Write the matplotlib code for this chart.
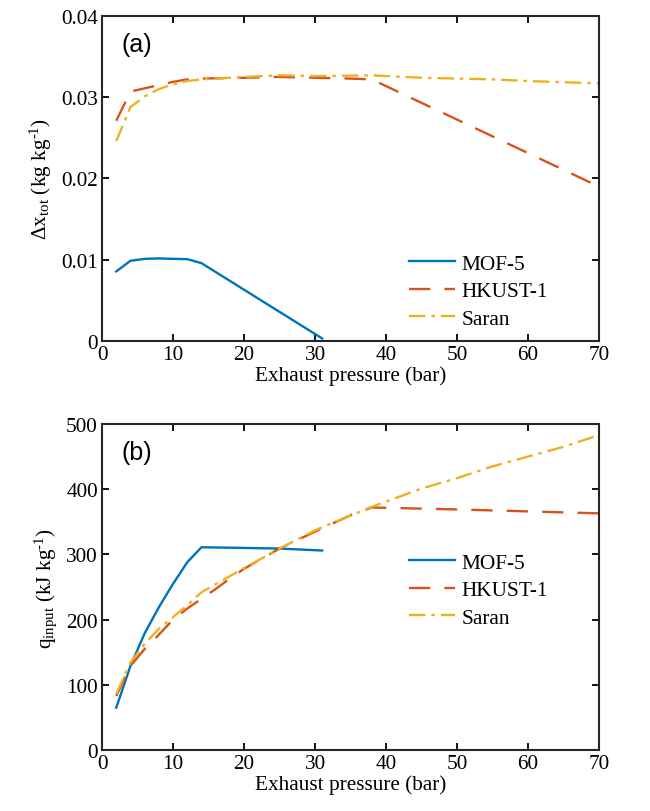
import matplotlib
matplotlib.use("Agg")
import matplotlib.pyplot as plt

plt.rcParams['font.family'] = ['Liberation Serif', 'DejaVu Serif']
plt.rcParams['mathtext.fontset'] = 'custom'
plt.rcParams['mathtext.rm'] = 'Liberation Serif'
plt.rcParams['mathtext.it'] = 'Liberation Serif:italic'
plt.rcParams['mathtext.sf'] = 'Liberation Serif'

# Panel (a): total uptake swing
a_mof_x = [2, 4, 6, 8, 10, 12, 14, 31]
a_mof_y = [0.00855, 0.00986, 0.0101, 0.01015, 0.0101, 0.01006, 0.00957, 0.0003]
a_hk_x = [2, 4, 6, 8, 10, 12, 14, 20, 25, 30, 35, 38, 70]
a_hk_y = [0.0271, 0.0307, 0.0311, 0.0315, 0.0319, 0.0322, 0.0323, 0.0324, 0.0325, 0.0324, 0.0323, 0.0322, 0.0190]
a_sa_x = [2, 4, 6, 8, 10, 12, 14, 20, 25, 30, 38, 45, 50, 55, 60, 70]
a_sa_y = [0.0246, 0.0288, 0.0301, 0.0310, 0.0316, 0.0320, 0.0322, 0.0325, 0.0327, 0.0326, 0.0327, 0.0324, 0.0323, 0.0322, 0.0320, 0.0317]

# Panel (b): heat input
b_mof_x = [2, 4, 6, 8, 10, 12, 14, 20, 25, 31]
b_mof_y = [65, 129, 179, 219, 255, 288, 311, 310, 309, 306]
b_hk_x = [2, 4, 6, 8, 10, 12, 14, 16, 18, 20, 25, 30, 35, 38, 50, 60, 70]
b_hk_y = [83, 129, 155, 177, 200, 217, 232, 247, 263, 278, 309, 335, 360, 372, 369, 366, 363]
b_sa_x = [2, 4, 6, 8, 10, 12, 14, 20, 25, 30, 38, 45, 50, 55, 60, 65, 70]
b_sa_y = [86, 134, 163, 186, 204, 222, 242, 279, 309, 337, 373, 401, 417, 435, 450, 465, 483]

labels = ['MOF-5', 'HKUST-1', 'Saran']
colors = ['#0072BD', '#D95319', '#EDB120']
styles = ['-', (0, (9, 6)), (0, (7, 2.5, 1.5, 2.5))]

FS = 15.3

fig = plt.figure(figsize=(6.5, 8.12), dpi=100)
ax1 = fig.add_axes([0.157, 0.579, 0.7645, 0.400])
ax2 = fig.add_axes([0.157, 0.075, 0.7645, 0.4016])

def style_ax(ax):
    ax.set_xlim(0, 70)
    ax.set_xticks(range(0, 71, 10))
    ax.tick_params(direction='in', top=True, right=True, labelsize=FS, length=5, width=1.3, pad=3)
    for s in ax.spines.values():
        s.set_linewidth(1.5)
        s.set_color('#262626')
    ax.set_xlabel('Exhaust pressure (bar)', fontsize=FS, labelpad=1)

for ax, data in [(ax1, [(a_mof_x, a_mof_y), (a_hk_x, a_hk_y), (a_sa_x, a_sa_y)]),
                 (ax2, [(b_mof_x, b_mof_y), (b_hk_x, b_hk_y), (b_sa_x, b_sa_y)])]:
    for (x, y), lab, c, ls in zip(data, labels, colors, styles):
        ax.plot(x, y, color=c, linestyle=ls, linewidth=1.7, label=lab)
    style_ax(ax)

ax1.set_ylim(0, 0.04)
ax1.set_yticks([0, 0.01, 0.02, 0.03, 0.04])
ax1.set_yticklabels(['0', '0.01', '0.02', '0.03', '0.04'])
ax1.set_ylabel(r'$\Delta$x$_{\rm tot}$ (kg kg$^{\text{-1}}$)', fontsize=FS, labelpad=5)
ax1.text(0.04, 0.913, '(a)', transform=ax1.transAxes, fontsize=18,
         family=['Liberation Sans', 'DejaVu Sans'], va='center')

ax2.set_ylim(0, 500)
ax2.set_yticks(range(0, 501, 100))
ax2.set_ylabel(r'q$_{\rm input}$ (kJ kg$^{\text{-1}}$)', fontsize=FS, labelpad=5)
ax2.text(0.04, 0.913, '(b)', transform=ax2.transAxes, fontsize=18,
         family=['Liberation Sans', 'DejaVu Sans'], va='center')

leg_kw = dict(frameon=False, fontsize=FS, handlelength=2.15, handletextpad=0.3, labelspacing=0.36)
ax1.legend(loc='lower left', bbox_to_anchor=(0.58, -0.022), **leg_kw)
ax2.legend(loc='center left', bbox_to_anchor=(0.58, 0.49), **leg_kw)

fig.savefig('out.png', dpi=100)
